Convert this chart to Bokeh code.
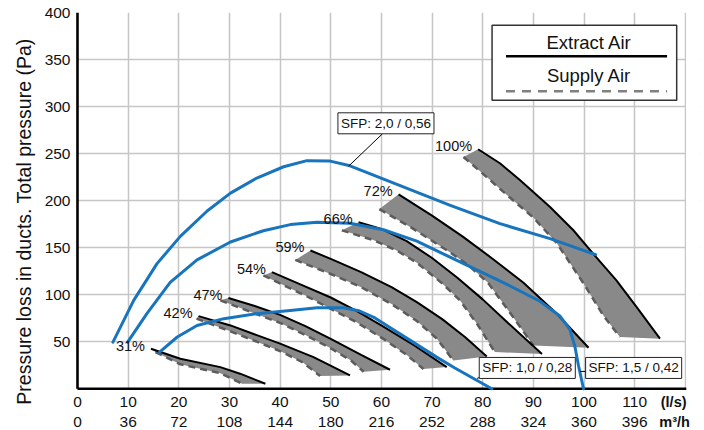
from bokeh.plotting import figure
from bokeh.models import FixedTicker, Label, Range1d
from bokeh.core.properties import value
from bokeh.embed import file_html
from bokeh.resources import INLINE

FONT = "Liberation Sans"

# ---------------- data ----------------
ls_ticks = [0, 10, 20, 30, 40, 50, 60, 70, 80, 90, 100, 110]
ls_labels = ["0", "10", "20", "30", "40", "50", "60", "70", "80", "90", "100", "110"]
m3h_labels = ["0", "36", "72", "108", "144", "180", "216", "252", "288", "324", "360", "396"]
grid_x = [10, 20, 30, 40, 50, 60, 70, 80, 90, 100, 110, 120]
y_ticks = [50, 100, 150, 200, 250, 300, 350, 400]

fan_labels = ["31%", "42%", "47%", "54%", "59%", "66%", "72%", "100%"]

# Extract air (solid black, upper edge of each band)
extract_x = [
    [14.5, 20.3, 28.2, 32.1, 37.1],
    [23.9, 30.2, 35.4, 40.0, 46.6, 53.8],
    [29.8, 35.0, 40.0, 45.0, 50.0, 56.0, 61.7],
    [38.4, 44.0, 50.0, 55.0, 60.4, 66.5, 72.9],
    [46.0, 50.0, 56.0, 62.0, 67.0, 72.0, 76.5, 80.8],
    [55.5, 60.0, 65.0, 70.0, 75.0, 80.0, 85.0, 91.7],
    [63.4, 70.0, 76.0, 82.0, 88.0, 94.6, 100.9],
    [79.1, 83.4, 87.4, 93.3, 97.9, 101.8, 106.4, 110.4, 115.0],
]
extract_y = [
    [42.5, 31.9, 23.0, 16.0, 5.3],
    [77.2, 67.3, 57.0, 47.9, 33.6, 14.2],
    [96.4, 88.0, 78.5, 66.5, 53.0, 36.0, 20.2],
    [124.0, 111.0, 97.0, 83.0, 66.0, 46.0, 23.0],
    [147.0, 138.0, 124.0, 108.0, 92.0, 74.0, 55.0, 34.4],
    [177.0, 170.0, 157.0, 139.0, 118.0, 95.0, 70.0, 37.0],
    [206.7, 184.0, 162.0, 138.0, 113.0, 80.0, 43.6],
    [254.6, 239.7, 221.6, 193.3, 168.5, 143.6, 115.3, 86.8, 53.2],
]
# Supply air (dashed grey, lower edge of each band)
supply_x = [
    [15.4, 20.3, 28.2, 32.5],
    [23.5, 30.2, 35.4, 40.0, 44.5, 47.9],
    [28.2, 35.0, 40.0, 45.0, 50.0, 54.0, 56.5],
    [36.7, 40.7, 45.0, 50.0, 55.0, 60.4, 65.0, 68.3],
    [43.0, 50.0, 56.0, 62.0, 67.0, 71.0, 74.2],
    [52.2, 58.4, 63.0, 67.0, 72.0, 75.5, 79.0, 82.4],
    [59.6, 66.0, 73.0, 77.0, 81.0, 85.5, 90.0],
    [76.2, 80.8, 85.0, 90.0, 94.6, 99.9, 103.8, 107.1],
]
supply_y = [
    [39.0, 26.0, 16.5, 5.3],
    [74.5, 61.0, 50.0, 40.0, 28.0, 13.5],
    [94.0, 80.0, 70.0, 57.0, 43.0, 30.0, 18.0],
    [120.5, 110.0, 99.0, 85.0, 71.0, 53.0, 36.0, 21.0],
    [137.0, 122.0, 108.0, 90.0, 72.0, 53.0, 30.0],
    [168.4, 158.0, 147.0, 134.0, 112.0, 94.0, 68.0, 39.0],
    [191.0, 171.0, 147.0, 132.0, 113.0, 80.0, 46.0],
    [246.4, 225.0, 205.0, 182.0, 155.0, 112.0, 78.0, 55.0],
]

# SFP curves (blue)
sfp20_x = [7.0, 11.1, 15.7, 20.3, 25.6, 30.2, 35.4, 40.7, 45.3, 49.9, 53.8, 63.7, 73.6, 83.4, 93.3, 102.3]
sfp20_y = [49.6, 94.0, 133.0, 162.0, 189.0, 208.0, 224.0, 236.0, 242.5, 242.0, 237.0, 216.0, 195.0, 175.5, 159.6, 142.5]
sfp15_x = [9.9, 13.7, 18.3, 23.6, 30.2, 36.7, 42.0, 47.3, 53.8, 60.4, 67.0, 72.0, 78.2, 84.8, 91.3, 95.3, 97.2, 98.2, 98.9, 99.9]
sfp15_y = [49.6, 79.8, 113.0, 137.0, 156.0, 168.0, 174.5, 177.0, 176.0, 169.0, 157.0, 144.0, 128.0, 111.0, 93.0, 77.0, 63.0, 45.0, 25.0, 0.0]
sfp10_x = [16.2, 19.7, 23.6, 28.9, 35.4, 42.0, 47.3, 52.5, 55.5, 58.5, 62.0, 65.7, 70.9, 74.5, 81.8]
sfp10_y = [39.0, 55.0, 67.3, 74.5, 79.8, 83.3, 86.0, 86.0, 83.0, 76.0, 64.0, 51.4, 33.6, 22.0, 0.0]
sfp_texts = ["SFP: 2,0 / 0,56", "SFP: 1,0 / 0,28", "SFP: 1,5 / 0,42"]

# ---------------- figure ----------------
# The frame is slightly larger than the data area (0-120, 0-400) so that the
# tick-label rows drawn as text below y=0 are not clipped.
X0, X1, Y0, Y1 = -1.38, 123.0, -44.4, 400.0
p = figure(width=704, height=430, x_range=Range1d(X0, X1), y_range=Range1d(Y0, Y1),
           output_backend="svg", toolbar_location=None, x_axis_location=None,
           min_border_left=70, min_border_right=4, min_border_top=12, min_border_bottom=0,
           outline_line_color=None, background_fill_color="white", border_fill_color="white")

GRID = "#c6c6c6"
p.xgrid.ticker = FixedTicker(ticks=grid_x)
p.xgrid.grid_line_color = GRID
p.ygrid.grid_line_color = GRID
p.xgrid.grid_line_width = 1.5
p.ygrid.grid_line_width = 1.5

# y axis (labels + title by bokeh, rule drawn at x=0 below)
ya = p.yaxis[0]
ya.ticker = FixedTicker(ticks=y_ticks)
ya.bounds = (0, 414)
ya.axis_line_color = None
ya.major_tick_line_color = None
ya.minor_tick_line_color = None
ya.major_tick_out = 0
ya.major_tick_in = 0
ya.minor_tick_out = 0
ya.major_label_standoff = 0
ya.major_label_text_font = FONT
ya.major_label_text_font_size = "15.5px"
ya.major_label_text_color = "#111111"
ya.axis_label = "Pressure loss in ducts. Total pressure (Pa)"
ya.axis_label_text_font = FONT
ya.axis_label_text_font_size = "19.5px"
ya.axis_label_text_font_style = "normal"
ya.axis_label_text_color = "#111111"
ya.axis_label_standoff = 7

# masks: keep the grid inside 0..120 x 0..400
p.quad(left=[X0, X0, 120.15], right=[X1, 0, X1], bottom=[Y0, 0, 0], top=[0, Y1, Y1],
       fill_color="white", line_color=None)

# axis rules
p.segment(x0=[0, 0], y0=[0, 0], x1=[120.2, 0], y1=[0, 400], line_color="black", line_width=2.6)

# x tick labels (two rows) and bold units
zeros = [0] * len(ls_ticks)
p.text(x=ls_ticks, y=zeros, text=ls_labels, text_align="center", text_baseline="middle",
       y_offset=13, text_font=value(FONT), text_font_size="15.5px", text_color="#111111")
p.text(x=ls_ticks, y=zeros, text=m3h_labels, text_align="center", text_baseline="middle",
       y_offset=33, text_font=value(FONT), text_font_size="15.5px", text_color="#111111")
p.text(x=[117.7, 117.9], y=[0, 0], text=["(l/s)", "m³/h"], text_align="center", text_baseline="middle",
       y_offset=[13, 33], text_font=value(FONT), text_font_size="14.5px", text_font_style="bold",
       text_color="#111111")

# bands
BAND = "#898989"
for ex, ey, sx, sy in zip(extract_x, extract_y, supply_x, supply_y):
    p.patch(ex + sx[::-1], ey + sy[::-1], fill_color=BAND, line_color=None)
for sx, sy in zip(supply_x, supply_y):
    p.line(sx, sy, line_color="#5c5c5c", line_width=2.5, line_dash="7 5")
for ex, ey in zip(extract_x, extract_y):
    p.line(ex, ey, line_color="black", line_width=2)

# SFP curves
BLUE = "#1874bd"
for xs, ys in [(sfp20_x, sfp20_y), (sfp15_x, sfp15_y), (sfp10_x, sfp10_y)]:
    p.line(xs, ys, line_color=BLUE, line_width=3, line_join="round", line_cap="round")

# percentage labels
p.text(x=[e[0] for e in extract_x], y=[e[0] for e in extract_y], text=fan_labels,
       text_align="right", text_baseline="middle", x_offset=-6, y_offset=-3,
       text_font=value(FONT), text_font_size="14.5px", text_color="#111111")

# SFP labels + leaders
p.segment(x0=[60.2, 99.2, 78.9], y0=[271.0, 18.4, 11.0], x1=[53.5, 100.8, 79.6], y1=[236.5, 18.4, 12.5],
          line_color="black", line_width=1)
for txt, lx, ly in zip(sfp_texts, [60.9, 88.8, 109.8], [282.2, 22.1, 22.1]):
    p.add_layout(Label(x=lx, y=ly, text=txt, text_align="center", text_baseline="middle",
                       text_font=FONT, text_font_size="13.5px", text_color="#111111",
                       background_fill_color="white", border_line_color="#222222",
                       border_line_width=1, padding=3))

# legend box (drawn by hand: text above each line sample)
p.quad(left=[81.85], right=[118.3], top=[386.5], bottom=[306.7],
       fill_color="white", line_color="#333333", line_width=1.5)
p.line([84.6, 116.4], [353.5, 353.5], line_color="black", line_width=2.5)
p.line([84.6, 116.4], [316.3, 316.3], line_color="#808080", line_width=2.5, line_dash="9 7")
p.add_layout(Label(x=101.0, y=368.1, text="Extract Air", text_align="center", text_baseline="middle",
                   text_font=FONT, text_font_size="18.5px", text_color="#111111"))
p.add_layout(Label(x=101.0, y=333.3, text="Supply Air", text_align="center", text_baseline="middle",
                   text_font=FONT, text_font_size="18.5px", text_color="#111111"))

open("out.html", "w").write(file_html(p, INLINE))
